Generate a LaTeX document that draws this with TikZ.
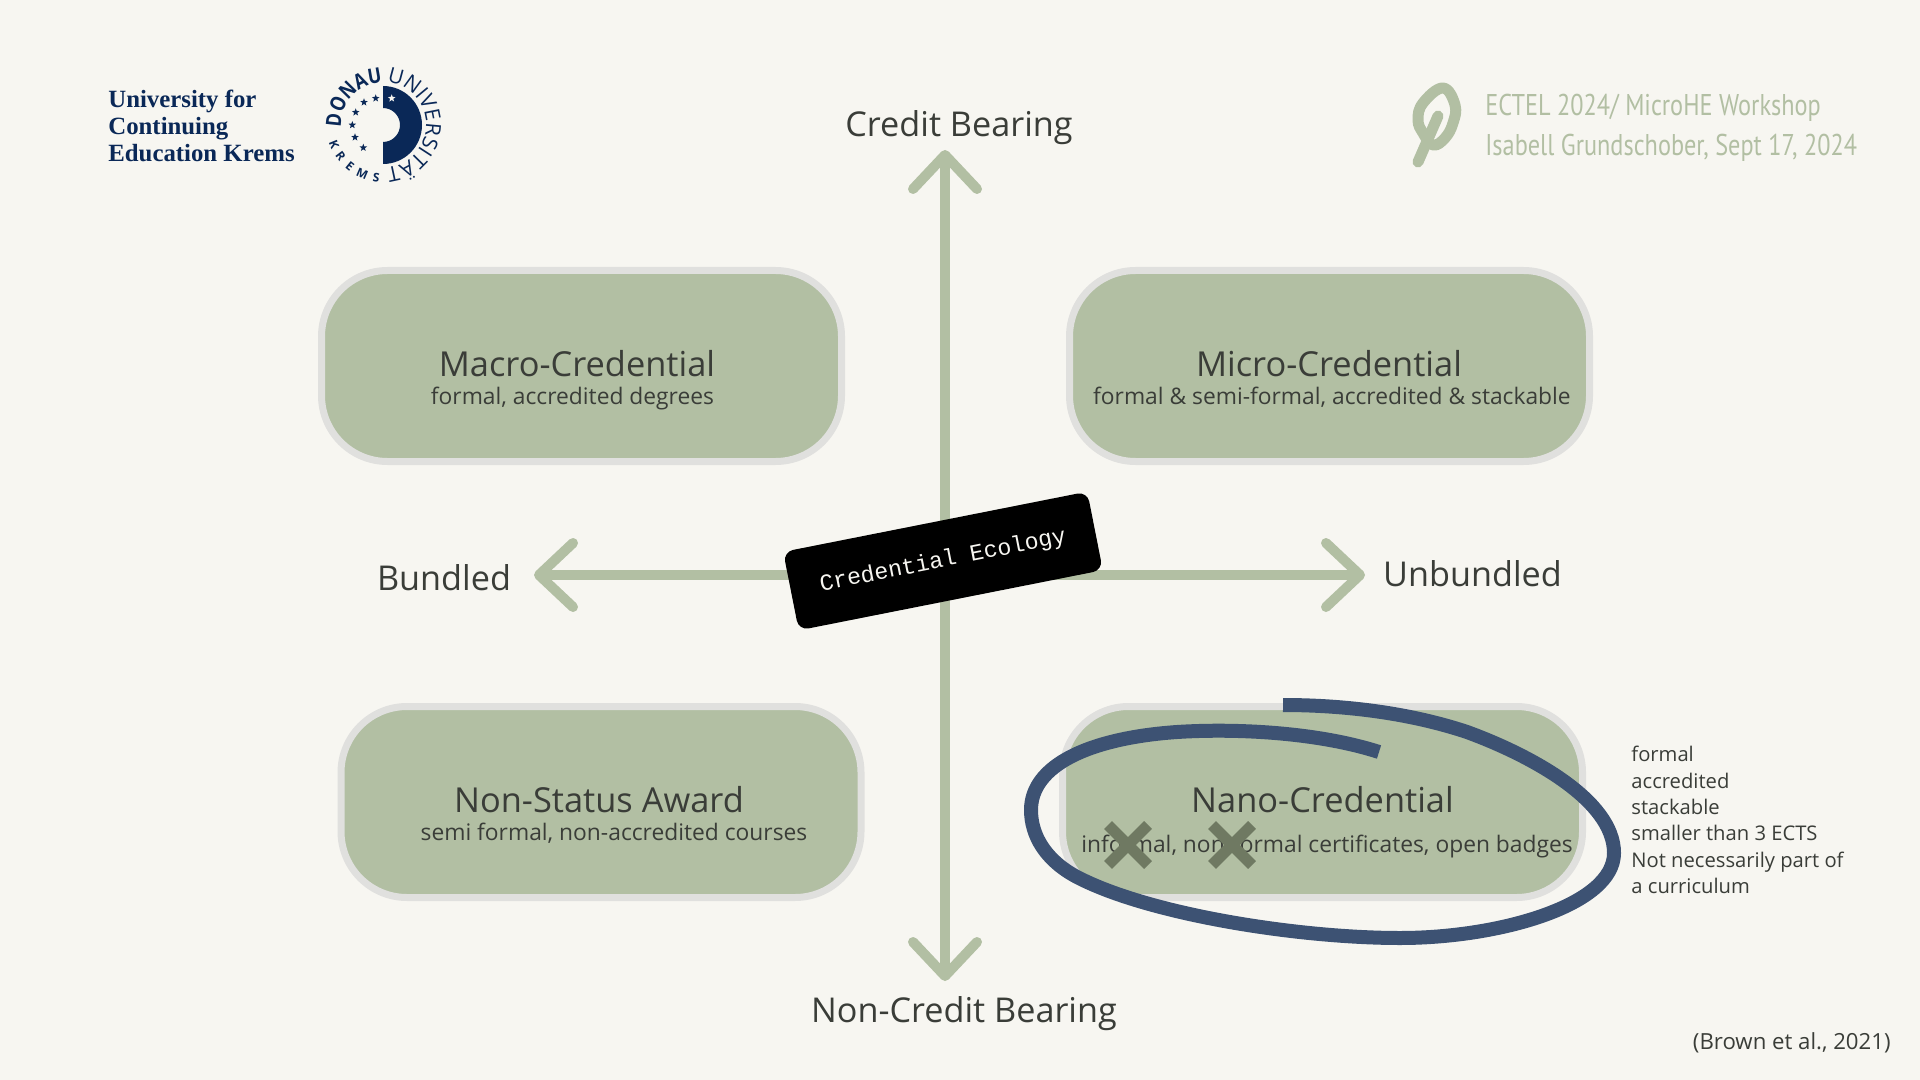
\documentclass[tikz,border=0pt]{standalone}
\usepackage{fontspec}
\setmainfont{Open Sans}
\newfontfamily\logoserif{Liberation Serif}
\newfontfamily\logosans{Open Sans}
\newfontfamily\logosansnarrow[FakeStretch=0.85]{Open Sans}
\newfontfamily\badgemono{Liberation Mono}
\newfontfamily\handfont[FakeStretch=0.81]{PT Sans}
\usetikzlibrary{arrows.meta,shapes.geometric,decorations.text}
\definecolor{bgpaper}{HTML}{F7F6F1}
\definecolor{sage}{HTML}{B2BFA3}
\definecolor{edgegrey}{HTML}{E0E0DE}
\definecolor{inkdark}{HTML}{3A3D38}
\definecolor{navy}{HTML}{0A2857}
\definecolor{loopblue}{HTML}{3D5273}
\definecolor{crossgreen}{HTML}{6F7962}
\newcommand{\pxf}[2]{\fontsize{#1pt}{#2pt}\selectfont}
\tikzset{
  credbox/.style={draw=edgegrey,fill=sage,line width=3.5pt,rounded corners=33pt,minimum width=260pt,minimum height=95.5pt,inner sep=0pt},
  axislabel/.style={text=inkdark,font=\pxf{17.1}{21},inner sep=0pt,anchor=center},
  boxtitle/.style={text=inkdark,font=\pxf{17.2}{21},inner sep=0pt,anchor=center},
  boxsub/.style={text=inkdark,font=\pxf{11.4}{13},inner sep=0pt,anchor=center},
  axisline/.style={draw=sage,line width=5pt},
  barb/.tip={Straight Barb[length=17pt,width=32pt,line cap=round,line join=round]},
  crossmark/.style={draw=crossgreen,line width=5.5pt},
  logostar/.style={star,star points=5,star point ratio=2.4,fill=navy,inner sep=0pt,minimum size=4pt},
}
\begin{document}
\begin{tikzpicture}[x=0.5pt,y=-0.5pt]
\useasboundingbox[fill=bgpaper] (0,0) rectangle (1920,1080);

% coordinates for axes
\coordinate (vtop) at (945,150);
\coordinate (vbot) at (945,981);
\coordinate (hleft) at (534,575);
\coordinate (hleftin) at (800,575);
\coordinate (hright) at (1365,575);
\coordinate (hrightin) at (1040,575);

% boxes
\node[credbox] (macro) at (581.5,366) {};
\node[credbox] (micro) at (1329.5,366) {};
\node[credbox] (nonstatus) at (601,802) {};
\node[credbox] (nano) at (1322.5,802) {};

% axes
\draw[axisline,{barb}-{barb}] (vtop) -- (vbot);
\draw[axisline,-{barb}] (hleftin) -- (hleft);
\draw[axisline,-{barb}] (hrightin) -- (hright);

% labels
\node[axislabel] (credit) at (959,128) {Credit Bearing};
\node[axislabel] (noncredit) at (964,1014) {Non-Credit Bearing};
\node[axislabel] (bundled) at (444,578) {Bundled};
\node[axislabel] (unbundled) at (1472.5,573.7) {Unbundled};

\node[boxtitle] (macrot) at (577,364) {Macro-Credential};
\node[boxsub] (macros) at (572.5,399) {formal, accredited degrees};
\node[boxtitle] (microt) at (1329,364) {Micro-Credential};
\node[boxsub] (micros) at (1332,397.5) {formal \& semi-formal, accredited \& stackable};
\node[boxtitle] (nonstatust) at (599,800) {Non-Status Award};
\node[boxsub] (nonstatuss) at (614,833) {semi formal, non-accredited courses};
\node[boxtitle] (nanot) at (1322.5,800) {Nano-Credential};
\node[boxsub] (nanos) at (1327,847) {informal, non-formal certificates, open badges};

% crosses over the text
\draw[crossmark] (1108,825) -- (1148,865) (1148,825) -- (1108,865);
\draw[crossmark] (1212,825) -- (1252,865) (1252,825) -- (1212,865);

% hand-drawn loop
\draw[draw=loopblue,line width=7pt,line join=round]
  (1283,705) .. controls (1345,705) and (1410,713) .. (1467,732)
  .. controls (1530,755) and (1614,800) .. (1614,853)
  .. controls (1614,905) and (1500,938) .. (1400,938)
  .. controls (1300,938) and (1150,915) .. (1077,877)
  .. controls (1045,860) and (1031,835) .. (1031,810)
  .. controls (1031,765) and (1090,738) .. (1177,732)
  .. controls (1240,728) and (1320,733) .. (1379,752);

% side list
\node[anchor=north west,align=left,text=inkdark,font=\pxf{10.1}{13.15},inner sep=0pt] (sidelist) at (1631,746)
 {formal\\accredited\\stackable\\smaller than 3 ECTS\\Not necessarily part of\\a curriculum};
\node[anchor=east,text=inkdark,font=\pxf{11.1}{13},inner sep=0pt] (citation) at (1891,1043) {(Brown et al., 2021)};

% badge
\node[fill=black,rounded corners=5pt,rotate=11.2,minimum width=155pt,minimum height=40pt,inner sep=0pt,text=bgpaper,font=\badgemono\pxf{11.6}{14}] (badge) at (943,561) {Credential Ecology};

% logo text
\node[anchor=west,align=left,text=navy,font=\logoserif\bfseries\pxf{12.4}{13.5},inner sep=0pt] (uwk) at (108,126)
 {University for\\Continuing\\Education Krems};

% circular logo
\begin{scope}[shift={(383,125)},x=0.5pt,y=0.5pt]
 \fill[navy] (0,39) arc[start angle=90,end angle=-90,radius=39] -- (0,-17) arc[start angle=-90,end angle=90,radius=17] -- cycle;
 \path[decorate,decoration={text along path,text={|\logosansnarrow\bfseries\color{navy}\pxf{10.5}{12}|DONAU}}]
   (183:42) arc[start angle=183,end angle=70,radius=42];
 \path[decorate,decoration={text along path,text={|\logosans\color{navy}\pxf{10.5}{12}|UNIVERSITÄT}}]
   (85:43) arc[start angle=85,end angle=-110,radius=43];
 \path[decorate,decoration={text along path,text align=fit to path,text={|\logosans\bfseries\color{navy}\pxf{6}{7}|KREMS }}]
   (198:57) arc[start angle=198,end angle=266,radius=57];
\end{scope}
\node[logostar,fill=bgpaper] (s0) at (391.7,98.3) {};
\node[logostar] (s1) at (375.7,98.3) {};
\node[logostar] (s2) at (364,102.3) {};
\node[logostar] (s3) at (355.7,112.3) {};
\node[logostar] (s4) at (352.3,125) {};
\node[logostar] (s5) at (355,137.3) {};
\node[logostar] (s6) at (363.3,147.7) {};

% pin icon
\draw[sage,line width=5.5pt,line join=round] plot[smooth cycle,tension=0.7] coordinates {
 (1443,88) (1455,105) (1453,123) (1445,138) (1433,145) (1423,133) (1418,120) (1423,103)};
\draw[sage,line width=5.5pt,line cap=round] (1438,116) -- (1418,162);

% header right
\node[anchor=west,text=sage,font=\handfont\pxf{15}{16},inner sep=0pt] (hdra) at (1485,108) {ECTEL 2024/ MicroHE Workshop};
\node[anchor=west,text=sage,font=\handfont\pxf{15}{16},inner sep=0pt] (hdrb) at (1485,148) {Isabell Grundschober, Sept 17, 2024};
\end{tikzpicture}
\end{document}
